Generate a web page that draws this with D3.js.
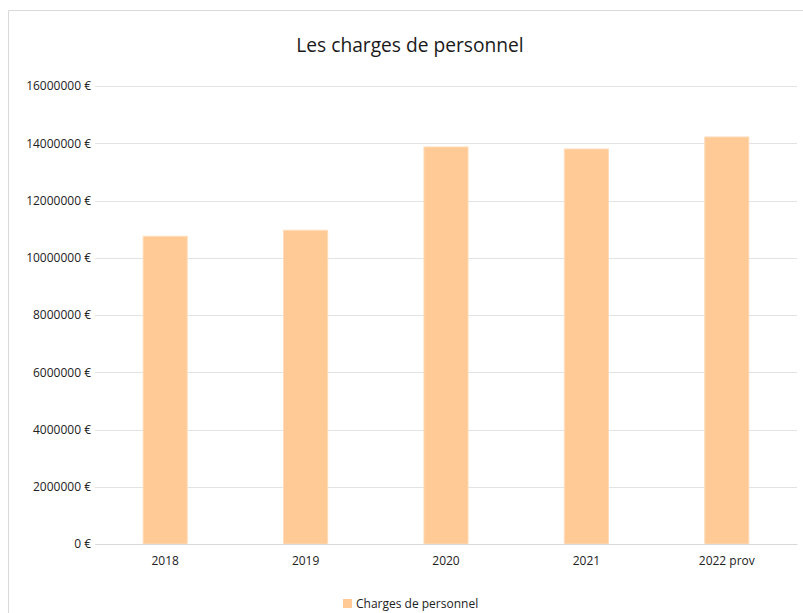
<!DOCTYPE html>
<html>
<head>
<meta charset="utf-8">
<script src="https://cdn.jsdelivr.net/npm/d3@7"></script>
<style>
  body { margin: 0; background: #fff; }
  svg text { font-family: 'Open Sans', 'Noto Sans', sans-serif; }
</style>
</head>
<body>
<div id="chart"></div>
<script>
const categories = ['2018', '2019', '2020', '2021', '2022 prov']
const charges = [10750000, 10960000, 13870000, 13800000, 14220000]
const yTicks = [0, 2000000, 4000000, 6000000, 8000000, 10000000, 12000000, 14000000, 16000000]
const seriesName = 'Charges de personnel'
const title = 'Les charges de personnel'

const W = 803
const H = 613
const margin = { top: 86, right: 6, bottom: 69, left: 95 }
const width = W - margin.left - margin.right
const height = H - margin.top - margin.bottom

const svg = d3.select('#chart')
  .append('svg')
  .attr('width', W)
  .attr('height', H)

// outer chart frame
svg.append('path')
  .attr('d', `M8.5,${H} V10.5 H${W}`)
  .attr('fill', 'none')
  .attr('stroke', '#d9d9d9')

svg.append('text')
  .attr('x', 410)
  .attr('y', 52)
  .attr('text-anchor', 'middle')
  .attr('font-size', 19.2)
  .attr('fill', '#1a1a1a')
  .text(title)

const g = svg.append('g')
  .attr('transform', `translate(${margin.left},${margin.top})`)

const x = d3.scaleBand()
  .domain(categories)
  .range([0, width])
  .paddingInner(0.686)
  .paddingOuter(0.343)

const y = d3.scaleLinear()
  .domain([0, 16000000])
  .range([height, 0])

// gridlines
g.append('g')
  .selectAll('line')
  .data(yTicks)
  .join('line')
  .attr('x1', 0)
  .attr('x2', width)
  .attr('y1', d => Math.round(y(d)) + 0.5)
  .attr('y2', d => Math.round(y(d)) + 0.5)
  .attr('stroke', '#e3e3e3')
  .attr('stroke-width', 1)

const yAxis = g.append('g')
  .call(d3.axisLeft(y).tickValues(yTicks).tickSize(0).tickPadding(4)
    .tickFormat(d => d + ' €'))
yAxis.select('.domain').remove()
yAxis.selectAll('text')
  .attr('font-size', 12)
  .attr('fill', '#222')

g.selectAll('rect.bar')
  .data(charges)
  .join('rect')
  .attr('class', 'bar')
  .attr('x', (d, i) => x(categories[i]))
  .attr('y', d => y(d))
  .attr('width', x.bandwidth())
  .attr('height', d => height - y(d))
  .attr('fill', '#ffca95')
  .attr('stroke', '#ffdcba')
  .attr('stroke-width', 1)

const xAxis = g.append('g')
  .attr('transform', `translate(0,${height})`)
  .call(d3.axisBottom(x).tickSize(0).tickPadding(12))
xAxis.select('.domain')
  .attr('stroke', '#d9d9d9')
xAxis.selectAll('text')
  .attr('font-size', 12)
  .attr('fill', '#222')

// legend
const legend = svg.append('g')
  .attr('transform', 'translate(343,599)')
legend.append('rect')
  .attr('width', 9)
  .attr('height', 9)
  .attr('fill', '#ffca95')
legend.append('text')
  .attr('x', 13)
  .attr('y', 9)
  .attr('font-size', 12)
  .attr('fill', '#222')
  .text(seriesName)
</script>
</body>
</html>
